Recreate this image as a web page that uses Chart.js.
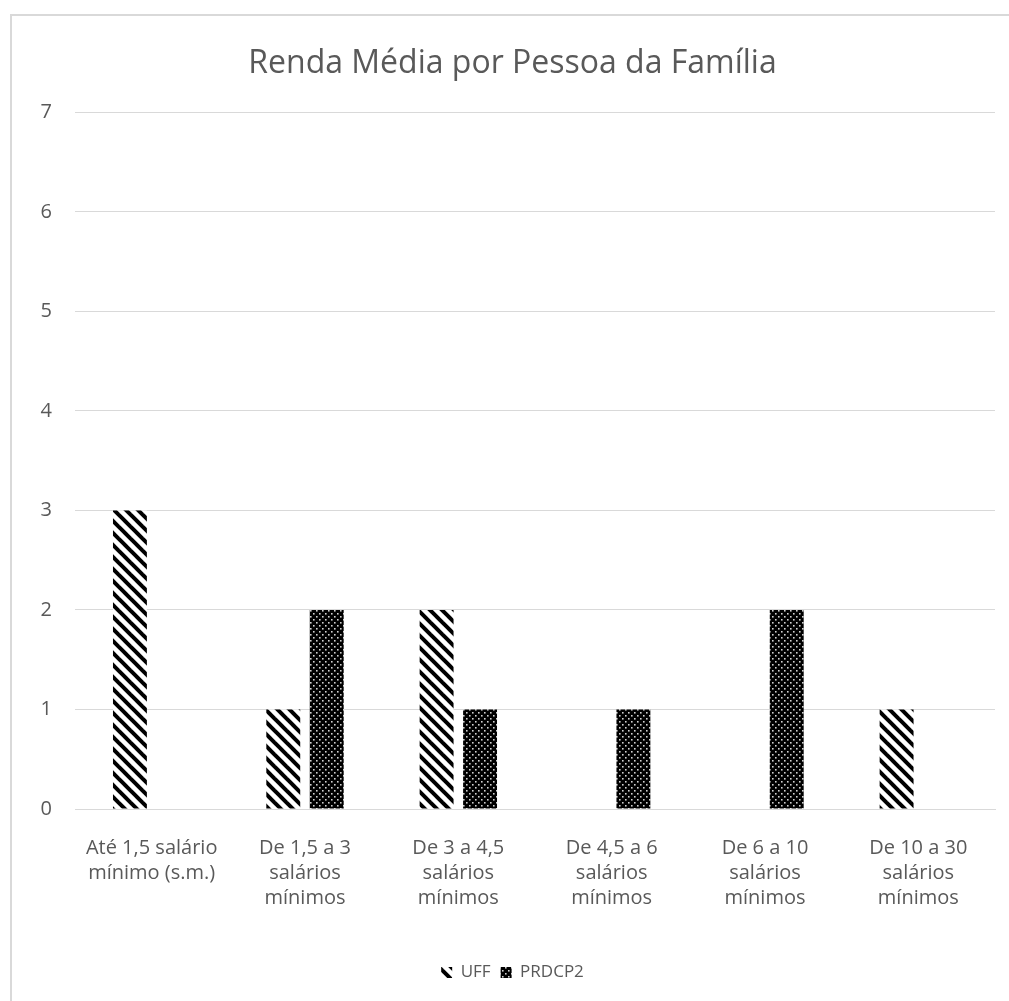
<!DOCTYPE html>
<html>
<head>
<meta charset="utf-8">
<script src="https://cdn.jsdelivr.net/npm/chart.js@4"></script>
<style>
  html, body { margin: 0; padding: 0; background: #fff; overflow: hidden; }
  #frame { position: absolute; left: 10px; top: 14px; width: 2000px; height: 2000px;
           border-left: 2px solid #d9d9d9; border-top: 2px solid #d9d9d9; }
  #wrap { position: absolute; left: 0; top: 0; width: 1009px; height: 1001px; }
</style>
</head>
<body>
<div id="frame"></div>
<div id="wrap"><canvas id="chart" width="1009" height="1001"></canvas></div>
<script>
// Income brackets (two-line / three-line labels)
const categories = [
  ["Até 1,5 salário", "mínimo (s.m.)"],
  ["De 1,5 a 3", "salários", "mínimos"],
  ["De 3 a 4,5", "salários", "mínimos"],
  ["De 4,5 a 6", "salários", "mínimos"],
  ["De 6 a 10", "salários", "mínimos"],
  ["De 10 a 30", "salários", "mínimos"]
];
const uffValues = [3, 1, 2, 0, 0, 1];
const prdcp2Values = [0, 2, 1, 1, 2, 0];
const seriesNames = ["UFF", "PRDCP2"];
const yTicks = [0, 1, 2, 3, 4, 5, 6, 7];

const textColor = "#595959";
const gridColor = "#d9d9d9";
const fontFamily = "'Open Sans', sans-serif";

// Wide downward diagonal stripes
function stripePattern() {
  const s = 12;
  const c = document.createElement("canvas");
  c.width = s; c.height = s;
  const g = c.getContext("2d");
  g.fillStyle = "#fff";
  g.fillRect(0, 0, s, s);
  g.strokeStyle = "#000";
  g.lineWidth = 4;
  for (const off of [-s, 0, s]) {
    g.beginPath();
    g.moveTo(off - 2, -2);
    g.lineTo(off + s + 2, s + 2);
    g.stroke();
  }
  return g.createPattern(c, "repeat");
}

// Black fill with a staggered grid of small light dots
function dotPattern() {
  const s = 6;
  const c = document.createElement("canvas");
  c.width = s; c.height = s;
  const g = c.getContext("2d");
  g.fillStyle = "#000";
  g.fillRect(0, 0, s, s);
  g.fillStyle = "#d0d0d0";
  g.fillRect(1, 1, 1.6, 1.6);
  g.fillRect(4, 4, 1.6, 1.6);
  return g.createPattern(c, "repeat");
}

const ctx = document.getElementById("chart").getContext("2d");
new Chart(ctx, {
  type: "bar",
  data: {
    labels: categories,
    datasets: [
      { label: seriesNames[0], data: uffValues, backgroundColor: stripePattern(), borderWidth: 0 },
      { label: seriesNames[1], data: prdcp2Values, backgroundColor: dotPattern(), borderWidth: 0 }
    ]
  },
  options: {
    responsive: false,
    animation: false,
    devicePixelRatio: 1,
    layout: { padding: { left: 30, right: 14, top: 14, bottom: 10 } },
    datasets: { bar: { categoryPercentage: 0.567, barPercentage: 0.78 } },
    scales: {
      x: {
        grid: { display: false, drawTicks: false },
        border: { display: true, color: gridColor, width: 1 },
        ticks: {
          color: textColor, padding: 27, maxRotation: 0, autoSkip: false,
          font: { family: fontFamily, size: 20, lineHeight: 1.25 }
        },
        afterFit: (s) => { s.height = 145; }
      },
      y: {
        min: 0, max: 7,
        afterBuildTicks: (s) => { s.ticks = yTicks.map(v => ({ value: v })); },
        grid: { color: gridColor, lineWidth: 1, drawTicks: false },
        border: { display: false },
        ticks: {
          color: textColor, padding: 23,
          font: { family: fontFamily, size: 20 }
        },
        afterFit: (s) => { s.width = 45; }
      }
    },
    plugins: {
      title: {
        display: true,
        text: "Renda Média por Pessoa da Família",
        color: textColor,
        font: { family: fontFamily, size: 32, weight: "normal", lineHeight: 1.2 },
        padding: { top: 31, bottom: 29 }
      },
      legend: {
        position: "bottom",
        labels: {
          color: textColor, boxWidth: 11, boxHeight: 11, padding: 10,
          font: { family: fontFamily, size: 17 }
        }
      },
      tooltip: { enabled: false }
    }
  }
});
</script>
</body>
</html>
